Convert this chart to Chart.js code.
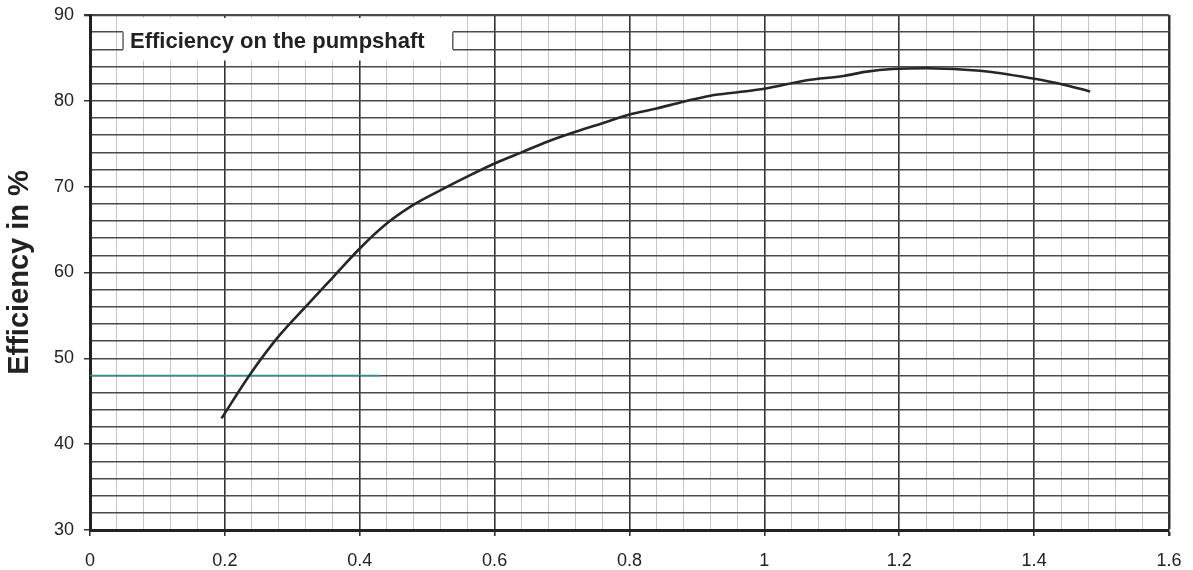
<!DOCTYPE html>
<html>
<head>
<meta charset="utf-8">
<script src="https://cdn.jsdelivr.net/npm/chart.js@4/dist/chart.umd.min.js"></script>
<style>
html, body { margin: 0; padding: 0; background: #fff; }
</style>
</head>
<body>
<canvas id="effChart" width="1193" height="570"></canvas>
<script>
// values
const flowValues = [0.195, 0.237, 0.279, 0.322, 0.361, 0.4, 0.44, 0.48, 0.52, 0.56, 0.6, 0.64, 0.68, 0.72, 0.76, 0.8, 0.84, 0.88, 0.92, 0.96, 1.0, 1.063, 1.117, 1.152, 1.19, 1.241, 1.32, 1.398, 1.438, 1.483];
const efficiencyValues = [43.0, 48.1, 52.5, 56.2, 59.5, 62.8, 65.7, 67.9, 69.6, 71.2, 72.7, 74.0, 75.3, 76.4, 77.4, 78.4, 79.1, 79.9, 80.6, 81.0, 81.4, 82.4, 82.9, 83.4, 83.7, 83.8, 83.5, 82.6, 82.0, 81.1];

// the short coloured line at 48 %
const markerX = [0, 0.43];
const markerY = [48, 48];

const xTickLabels = ['0', '0.2', '0.4', '0.6', '0.8', '1', '1.2', '1.4', '1.6'];
const yTickLabels = ['30', '40', '50', '60', '70', '80', '90'];
const chartTitle = 'Efficiency on the pumpshaft';
const yTitle = 'Efficiency in %';

function isMajorX(v) {
    return Math.round(v * 100) % 20 === 0;
}

const titleBox = {
    id: 'titleBox',
    beforeDatasetsDraw(chart) {
        const { ctx, chartArea } = chart;
        const x = chart.scales.x, y = chart.scales.y;
        const left = x.getPixelForValue(0.049);
        const right = x.getPixelForValue(0.538);
        const top = chartArea.top + 3;
        const bottom = y.getPixelForValue(84) - 6;
        const y88 = y.getPixelForValue(88);
        const y86 = y.getPixelForValue(86);
        ctx.save();
        ctx.fillStyle = '#fff';
        ctx.fillRect(left, top, right - left, bottom - top);
        ctx.strokeStyle = '#4a4a4a';
        ctx.lineWidth = 1.3;
        ctx.beginPath();
        ctx.moveTo(left, y88); ctx.lineTo(left, y86);
        ctx.moveTo(right, y88); ctx.lineTo(right, y86);
        ctx.stroke();
        ctx.fillStyle = '#222';
        ctx.font = 'bold 22px "Liberation Sans", Arial, sans-serif';
        ctx.textBaseline = 'alphabetic';
        ctx.textAlign = 'left';
        ctx.fillText(chartTitle, left + 7, y86 - 1.5);
        ctx.restore();
    }
};

const ctx = document.getElementById('effChart').getContext('2d');
new Chart(ctx, {
    type: 'line',
    data: {
        datasets: [
            {
                data: flowValues.map((v, i) => ({ x: v, y: efficiencyValues[i] })),
                borderColor: '#262626',
                borderWidth: 2.6,
                pointRadius: 0,
                cubicInterpolationMode: 'monotone',
                fill: false,
                order: 0
            },
            {
                data: markerX.map((v, i) => ({ x: v, y: markerY[i] })),
                borderColor: '#2f8f8a',
                borderWidth: 1.5,
                pointRadius: 0,
                fill: false,
                order: 1
            }
        ]
    },
    options: {
        responsive: false,
        animation: false,
        devicePixelRatio: 1,
        layout: { padding: { top: 15, right: 24, left: 0, bottom: 0 } },
        plugins: {
            legend: { display: false },
            tooltip: { enabled: false }
        },
        scales: {
            x: {
                type: 'linear',
                min: 0,
                max: 1.6,
                afterFit: scale => {
                    scale.height = 40;
                    scale.paddingLeft = 0;
                    scale.paddingRight = 0;
                },
                border: { color: '#222', width: 3 },
                grid: {
                    color: c => isMajorX(c.tick.value) ? '#333' : '#c6c6c6',
                    lineWidth: c => c.index === 40 ? 2.5 : (isMajorX(c.tick.value) ? 1.6 : 1),
                    tickLength: 6,
                    tickColor: c => isMajorX(c.tick.value) ? '#333' : 'rgba(0,0,0,0)'
                },
                ticks: {
                    stepSize: 0.04,
                    autoSkip: false,
                    maxRotation: 0,
                    padding: 14,
                    color: '#222',
                    font: { size: 18, family: '"Liberation Sans", Arial, sans-serif' },
                    callback: v => isMajorX(v) ? xTickLabels[Math.round(v * 100) / 20] : ''
                }
            },
            y: {
                type: 'linear',
                min: 30,
                max: 90,
                afterFit: scale => {
                    scale.width = 90;
                    scale.paddingTop = 0;
                    scale.paddingBottom = 0;
                },
                border: { color: '#222', width: 3 },
                grid: {
                    color: '#4a4a4a',
                    lineWidth: c => c.tick.value === 90 ? 2.3 : 1.5,
                    tickLength: 6,
                    tickColor: c => c.tick.value % 10 === 0 ? '#333' : 'rgba(0,0,0,0)'
                },
                ticks: {
                    stepSize: 2,
                    autoSkip: false,
                    padding: 10,
                    color: '#222',
                    font: { size: 18, family: '"Liberation Sans", Arial, sans-serif' },
                    callback: v => v % 10 === 0 ? yTickLabels[(v - 30) / 10] : ''
                },
                title: {
                    display: true,
                    text: yTitle,
                    color: '#222',
                    padding: { top: 3, bottom: 0 },
                    font: { size: 29, weight: 'bold', family: '"Liberation Sans", Arial, sans-serif' }
                }
            }
        }
    },
    plugins: [titleBox]
});
</script>
</body>
</html>
